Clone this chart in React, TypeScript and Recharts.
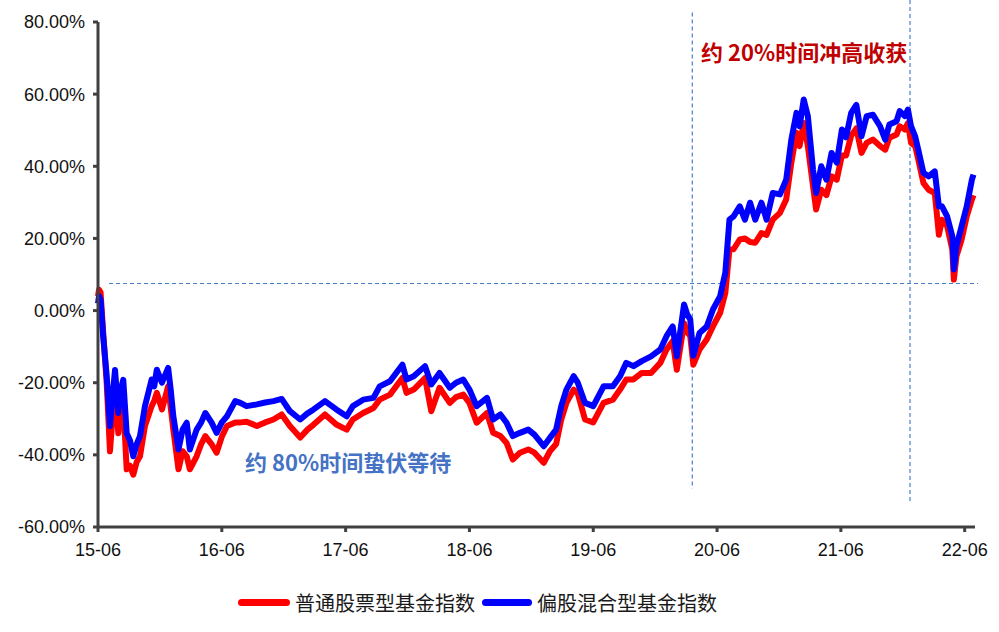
import { Line, LineChart, ReferenceLine, XAxis, YAxis } from 'recharts'

const xTickLabels = ['15-06', '16-06', '17-06', '18-06', '19-06', '20-06', '21-06', '22-06']
const yTicks = [-60, -40, -20, 0, 20, 40, 60, 80]

// months since 2015-06
const months = [
  0, 0.1, 0.25, 0.5, 0.84, 1.16, 1.4, 1.65, 1.97, 2.2, 2.45, 2.78, 3.1, 3.42, 3.75, 4.07, 4.55, 5.2, 5.45, 5.7,
  6.2, 6.8, 7.05, 7.3, 7.8, 8.2, 8.6, 8.9, 9.56, 10, 10.4, 11, 11.5, 12, 12.5, 13.3, 13.8, 14.4, 15.4, 16.2,
  17, 17.8, 18.6, 19.6, 20.3, 20.9, 22, 23.1, 24.1, 24.7, 25.7, 26.7, 27.3, 28.3, 28.9, 29.5, 29.9, 30.6, 31.7, 32.3,
  33.1, 34.1, 34.7, 35.4, 36, 36.7, 37.7, 38.3, 39, 39.6, 40.2, 40.9, 41.7, 42.3, 43.2, 43.8, 44.4, 44.9, 45.4, 46.1,
  46.5, 47.2, 48, 49, 49.9, 50.6, 51.2, 51.9, 52.7, 53.6, 54.5, 55.1, 55.7, 56.1, 56.8, 57.1, 57.4, 57.7, 58.3, 59,
  59.6, 60.3, 60.8, 61.2, 61.6, 62.2, 62.7, 63.2, 63.7, 64.3, 64.8, 65.4, 66.1, 66.7, 67.2, 67.7, 68, 68.4, 68.8, 69.3,
  69.6, 70.1, 70.6, 71.1, 71.6, 72.1, 72.5, 73, 73.5, 74, 74.5, 75.1, 75.8, 76.3, 76.7, 77.4, 77.7, 78.2, 78.5, 78.8,
  79.2, 79.5, 80, 80.5, 81.1, 81.5, 81.8, 82.3, 82.8, 82.95, 83.2, 83.7, 84.2, 84.7, 84.85,
]

// 偏股混合型基金指数 (%)
const mixedFund = [
  2, 4, 3, -7, -18, -32, -24, -16.5, -28.4, -22, -19.2, -34, -36, -40.4, -37, -34.8, -26.5, -19.1, -21, -16.4,
  -20, -15.9, -22, -29.3, -38.5, -33, -31.1, -38.5, -33, -31, -28.4, -31, -33.9, -31, -29.3, -25.1, -25.6, -26.5, -26, -25.5,
  -25.1, -24.5, -27.9, -30.2, -28.5, -27.4, -25.1, -27.4, -29.3, -26.5, -24.7, -24.2, -21, -19.6, -17.3, -15, -19.1, -18.2, -15.4, -20.5,
  -17.3, -21.4, -20, -19.1, -21.9, -26.5, -24.2, -30.2, -28.8, -31.1, -34.8, -33.9, -33, -34.4, -37.6, -35.3, -33, -26.5, -21.9, -18.2,
  -20, -25.6, -26.5, -21, -21, -18.2, -14.5, -15.4, -14, -12.7, -10.8, -7.1, -4.4, -12.7, 1.7, -1, -2.5, -12.5, -6.2, -4.4,
  0.3, 4, 10.5, 25.2, 26.1, 28.9, 25.2, 29.9, 25.2, 29.9, 25.2, 32.6, 32.2, 36.3, 47.4, 54.8, 51.1, 58.5, 53.9, 39.1,
  32.6, 40, 36.3, 43.7, 41, 50.2, 48, 54.8, 57, 48.3, 53.9, 54.3, 51.1, 47.4, 51.6, 52.5, 55.3, 53.9, 55.7, 51.1,
  48.3, 44.6, 38.2, 37.2, 38.6, 28.9, 28.9, 26.1, 20.6, 11.4, 17.8, 23.4, 28.9, 36.3, 37.7,
]

// 普通股票型基金指数 (%)
const stockFund = [
  4, 5.8, 5, -6, -20, -39, -30, -21, -34, -27, -25.6, -44, -43, -45.5, -42, -40.4, -32, -26.5, -25, -22.8,
  -27.4, -21, -27, -33, -44, -39, -40.4, -44, -40.4, -37, -34.8, -37, -39.4, -35, -32, -31, -31, -30.8, -32, -31,
  -30.2, -28.8, -32, -35.2, -33, -31.6, -28.8, -31.6, -33, -30.2, -28.4, -27, -24.7, -23.3, -21, -18.7, -22.8, -21.9, -18.7, -27.9,
  -21.4, -25.6, -24, -23.3, -25.6, -31.1, -28.4, -33.9, -34.8, -36.7, -41.3, -39.4, -38.5, -39.4, -42.2, -39, -37, -30.2, -25.6, -21.9,
  -23, -30.2, -31, -25.6, -24.7, -21.9, -19.1, -19.1, -17.3, -17.3, -14.5, -10.8, -8.5, -16.4, -3.5, -6, -7, -15, -10.8, -8,
  -4.4, -0.6, 4.9, 16.9, 17, 19.7, 20, 19, 18.8, 21.5, 21, 25.2, 27.1, 30.8, 41, 49.3, 45.6, 52, 45.6, 34.5,
  28, 33.5, 32, 37.2, 36.3, 43, 43, 48.5, 50.5, 43.7, 46.5, 47.4, 45.6, 44.6, 47.9, 48.8, 51.1, 50.2, 52, 46.5,
  45.6, 41.9, 35.4, 33.5, 32.6, 21, 25.2, 23.4, 16.9, 8.6, 15, 19.7, 26.1, 30.8, 32,
]

const data = months.map((m, i) => ({ m, stock: stockFund[i], mixed: mixedFund[i] }))

const AXIS_COLOR = '#404040'
const TICK = { fill: '#111', fontSize: 18, fontFamily: '"Liberation Sans", Arial, sans-serif' }
const GUIDE = '#4a7ecb'
const CJK = '"Noto Sans CJK SC", "Noto Sans", sans-serif'

function LegendItem({ color, label, left, lineWidth }: { color: string; label: string; left: number; lineWidth: number }) {
  return (
    <div style={{ position: 'absolute', left, top: 588, height: 28, display: 'flex', alignItems: 'center' }}>
      <span style={{ display: 'inline-block', width: lineWidth, height: 7, borderRadius: 4, background: color }} />
      <span style={{ marginLeft: 5, fontSize: 20, color: '#1a1a1a', fontFamily: CJK, whiteSpace: 'nowrap' }}>{label}</span>
    </div>
  )
}

export default function App() {
  return (
    <div style={{ position: 'absolute', left: 0, top: 0, width: 999, height: 632, background: '#fff' }}>
      <LineChart width={999} height={632} data={data} margin={{ top: 22, right: 24, left: 10, bottom: 75 }}>
        <XAxis dataKey="m" type="number" domain={[0, 85]} ticks={[0, 12, 24, 36, 48, 60, 72, 84]}
               tickFormatter={(v: number) => xTickLabels[Math.round(v / 12)]} tick={TICK} height={30}
               axisLine={{ stroke: AXIS_COLOR, strokeWidth: 3 }} tickLine={{ stroke: AXIS_COLOR, strokeWidth: 3 }}
               tickSize={5} tickMargin={11} interval={0} />
        <YAxis type="number" domain={[-60, 80]} ticks={yTicks} width={88} tick={TICK}
               tickFormatter={(v: number) => `${v.toFixed(2)}%`}
               axisLine={{ stroke: AXIS_COLOR, strokeWidth: 3 }} tickLine={{ stroke: AXIS_COLOR, strokeWidth: 3 }}
               tickSize={5} tickMargin={8} interval={0} />
        <ReferenceLine segment={[{ x: 1.07, y: 7.5 }, { x: 85.3, y: 7.5 }]} stroke={GUIDE} strokeWidth={1.2}
                       strokeDasharray="4 3" ifOverflow="visible" />
        <ReferenceLine segment={[{ x: 57.6, y: 82.6 }, { x: 57.6, y: -49.4 }]} stroke={GUIDE} strokeWidth={1.2}
                       strokeDasharray="4 3" ifOverflow="visible" />
        <ReferenceLine segment={[{ x: 78.7, y: 86.1 }, { x: 78.7, y: -53.6 }]} stroke={GUIDE} strokeWidth={1.2}
                       strokeDasharray="4 3" ifOverflow="visible" />
        <Line dataKey="stock" name="普通股票型基金指数" stroke="#ff0000" strokeWidth={6} dot={false}
              strokeLinejoin="round" isAnimationActive={false} />
        <Line dataKey="mixed" name="偏股混合型基金指数" stroke="#0000ff" strokeWidth={6} dot={false}
              strokeLinejoin="round" isAnimationActive={false} />
      </LineChart>
      <div style={{ position: 'absolute', left: 701, top: 38, fontSize: 22, lineHeight: '26px', fontWeight: 700,
                    color: '#c00000', fontFamily: CJK, whiteSpace: 'nowrap' }}>约 20%时间冲高收获</div>
      <div style={{ position: 'absolute', left: 245, top: 448, fontSize: 22, lineHeight: '26px', fontWeight: 700,
                    color: '#4472c4', fontFamily: CJK, whiteSpace: 'nowrap' }}>约 80%时间蛰伏等待</div>
      <LegendItem color="#ff0000" label="普通股票型基金指数" left={238} lineWidth={52} />
      <LegendItem color="#0000ff" label="偏股混合型基金指数" left={482} lineWidth={50} />
    </div>
  )
}
